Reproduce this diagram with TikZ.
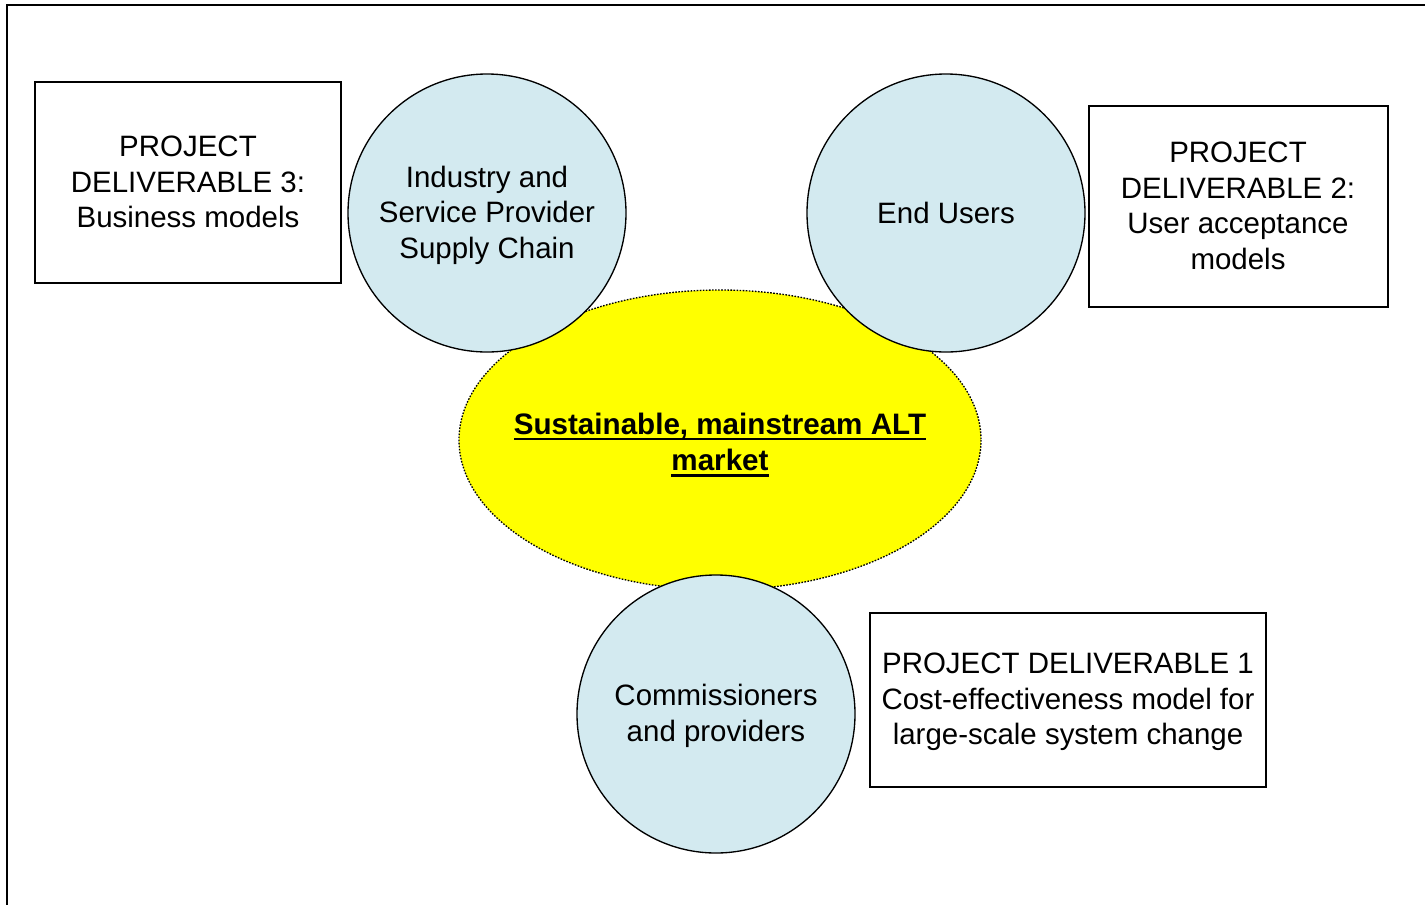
\documentclass[tikz,border=0pt]{standalone}
\usepackage{fontspec}
\setmainfont{Liberation Sans}
\newcommand\myul[1]{\setbox0\hbox{#1}\leavevmode\rlap{\rule[-4.8pt]{\wd0}{2.2pt}}\box0}
\definecolor{circfill}{RGB}{211,234,240}
\definecolor{ellfill}{RGB}{255,255,0}
\begin{document}
\begin{tikzpicture}[x=0.75pt,y=-0.75pt,
  txt/.style={font=\fontsize{22.1}{26.6}\selectfont, align=center, inner sep=0pt},
  delbox/.style={draw=black, line width=1pt, fill=white},
  actor/.style={circle, draw=black, line width=1pt, fill=circfill, minimum size=278*0.75pt, inner sep=0pt}
]
\useasboundingbox (0,0) rectangle (1425,904);
\clip (0,0) rectangle (1425,904);
\fill[white] (0,0) rectangle (1425,904);
\draw[line width=1.6pt] (7,5) rectangle (1450,930);

% central ellipse
\fill[ellfill, draw=black, line width=1pt, dash pattern=on 1.2pt off 1.1pt] (720,440) ellipse [x radius=261, y radius=150];
\node[txt, font=\fontsize{22.2}{27.7}\selectfont\bfseries] (market) at (720,445) {\myul{Sustainable, mainstream ALT}\\\myul{market}};

% actor circles
\node[actor] (industry) at (487,213) {};
\node[txt] (industrytxt) at (487,215) {Industry and\\Service Provider\\Supply Chain};
\node[actor] (endusers) at (946,213) {};
\node[txt] (endusertxt) at (946,213) {End Users};
\node[actor] (comm) at (716,714) {};
\node[txt] (commtxt) at (716,716) {Commissioners\\and providers};

% deliverable boxes
\draw[delbox] (35,82) rectangle (341,283);
\node[txt] (d3) at (188,182) {PROJECT\\DELIVERABLE 3:\\Business models};
\draw[delbox] (1089,106) rectangle (1388,307);
\node[txt] (d2) at (1238,206) {PROJECT\\DELIVERABLE 2:\\User acceptance\\models};
\draw[delbox] (870,613) rectangle (1266,787);
\node[txt] (d1) at (1068,702) {PROJECT DELIVERABLE 1\\Cost-effectiveness model for\\large-scale system change};
\end{tikzpicture}
\end{document}
